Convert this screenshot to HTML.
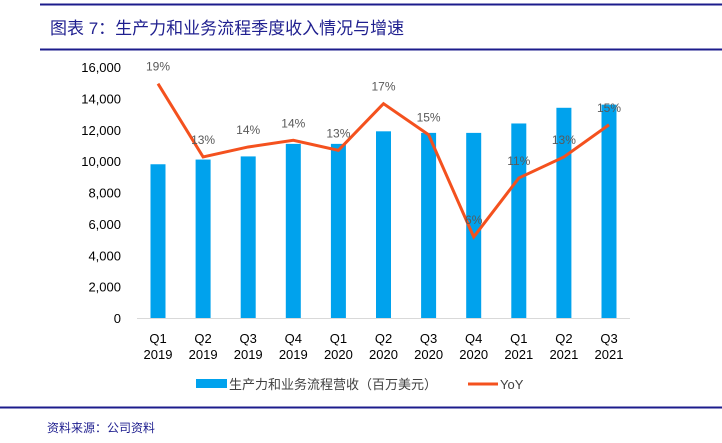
<!DOCTYPE html>
<html><head><meta charset="utf-8"><style>
body{margin:0;background:#fff;width:722px;height:438px;overflow:hidden;font-family:"Liberation Sans","Noto Sans CJK SC",sans-serif}
</style></head><body>
<svg width="722" height="438" xmlns="http://www.w3.org/2000/svg">
<line x1="40" y1="4.5" x2="722" y2="4.5" stroke="#1c1c8c" stroke-width="2"/>
<text x="50" y="34" font-size="17" fill="#1f1f8f" font-family="'Liberation Sans','Noto Sans CJK SC',sans-serif">图表 7：生产力和业务流程季度收入情况与增速</text>
<line x1="40" y1="49.5" x2="722" y2="49.5" stroke="#1c1c8c" stroke-width="2"/>
<g id="yaxis"></g>
<g id="bars"></g>
<line x1="137" y1="318.5" x2="630" y2="318.5" stroke="#d9d9d9"/>
<g id="line"></g>
<g id="xaxis"></g>
<g>
<rect x="196" y="379" width="31" height="9" fill="#00a2ed"/>
<text x="229" y="389" font-size="13" fill="#404040">生产力和业务流程营收（百万美元）</text>
<line x1="468" y1="384" x2="498" y2="384" stroke="#f4511e" stroke-width="3"/>
<text x="500" y="389" font-size="13" fill="#404040">YoY</text>
</g>
<line x1="0" y1="407.5" x2="722" y2="407.5" stroke="#1c1c8c" stroke-width="2"/>
<text x="47" y="432" font-size="12" fill="#1f1f8f">资料来源：公司资料</text>
</svg>
<script>
const quarters=["Q1","Q2","Q3","Q4","Q1","Q2","Q3","Q4","Q1","Q2","Q3"];
const years=["2019","2019","2019","2019","2020","2020","2020","2020","2021","2021","2021"];
const revenue=[9800,10100,10300,11100,11100,11900,11800,11800,12400,13400,13600];
const yoy=[19.4,12.8,13.7,14.3,13.4,17.6,14.8,5.6,10.9,12.8,15.7];
const yoyLabels=["19%","13%","14%","14%","13%","17%","15%","6%","11%","13%","15%"];
const yTicks=[0,2000,4000,6000,8000,10000,12000,14000,16000];
const NS="http://www.w3.org/2000/svg";
const y0=318,y1=67,yMax=16000,y2Min=-1.7,y2Max=20.9;
const x=i=>158+i*45.1;
const y=v=>y0-(v/yMax)*(y0-y1);
const y2=v=>y0-((v-y2Min)/(y2Max-y2Min))*(y0-y1);
function mk(t,a,p){const e=document.createElementNS(NS,t);for(const k in a)e.setAttribute(k,a[k]);p.appendChild(e);return e;}
const ya=document.getElementById('yaxis');
yTicks.forEach(t=>{const e=mk('text',{x:121,y:y(t)+5,'font-size':13,fill:'#000','text-anchor':'end'},ya);e.textContent=t.toLocaleString('en-US');

});
const bg=document.getElementById('bars');
revenue.forEach((v,i)=>{const r=mk('rect',{x:x(i)-7.5,y:y(v),width:15,height:y0-y(v),fill:'#00a2ed'},bg);

});
const lg=document.getElementById('line');
const pl=mk('polyline',{points:yoy.map((v,i)=>x(i)+','+y2(v)).join(' '),fill:'none',stroke:'#f4511e','stroke-width':3,'stroke-linejoin':'miter'},lg);


yoy.forEach((v,i)=>{const t=mk('text',{x:x(i),y:y2(v)-13,'font-size':12,fill:'#595959','text-anchor':'middle'},lg);t.textContent=yoyLabels[i];

});
const xa=document.getElementById('xaxis');
quarters.forEach((q,i)=>{const t=mk('text',{x:x(i),y:343,'font-size':13,fill:'#000','text-anchor':'middle'},xa);t.textContent=q;


const u=mk('text',{x:x(i),y:359,'font-size':13,fill:'#000','text-anchor':'middle'},xa);u.textContent=years[i];

});
</script>
</body></html>
